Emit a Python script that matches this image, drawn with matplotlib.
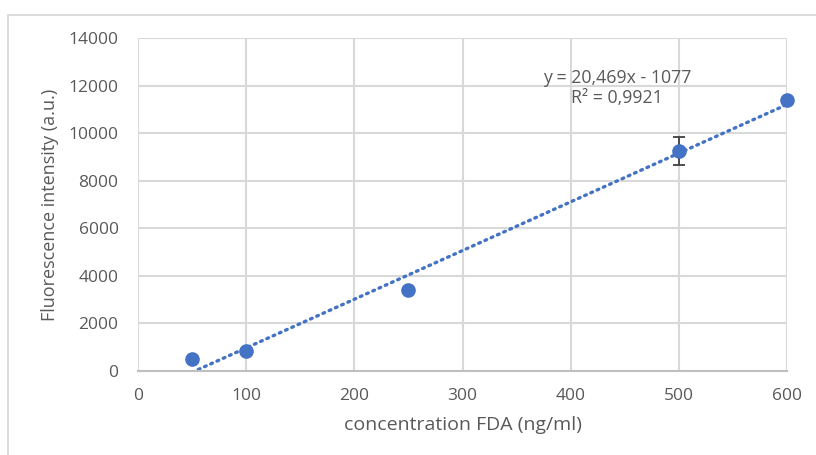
import numpy as np
import matplotlib.pyplot as plt
from matplotlib.patches import Rectangle

plt.rcParams['font.family'] = ['Open Sans', 'DejaVu Sans']

# meetdata
conc = [50, 100, 250, 500, 600]           # ng/ml
intensity = [500, 840, 3400, 9250, 11400]  # a.u.
err = [0, 0, 0, 570, 0]

# lineaire trendlijn (Excel)
slope = 20.469
intercept = -1077
r2 = 0.9921

xticks = [0, 100, 200, 300, 400, 500, 600]
yticks = [0, 2000, 4000, 6000, 8000, 10000, 12000, 14000]

blue = '#4472C4'
grey_txt = '#595959'
grid_c = '#d9d9d9'

fig = plt.figure(figsize=(8.16, 4.55), dpi=100)
ax = fig.add_axes([0.1691, 0.1846, 0.7954, 0.7319])

# kader rond de grafiek
fig.patches.append(Rectangle((8 / 816, -0.2), 1.2, 0.2 + (455 - 15) / 455,
                             transform=fig.transFigure, fill=False,
                             edgecolor=grid_c, linewidth=1.3))

ax.set_xlim(0, 600)
ax.set_ylim(0, 14000)
ax.set_xticks(xticks)
ax.set_yticks(yticks)
ax.grid(True, color=grid_c, linewidth=1.5)
ax.set_axisbelow(True)
for s in ['top', 'right', 'left']:
    ax.spines[s].set_visible(False)
ax.spines['bottom'].set_color('#bfbfbf')
ax.spines['bottom'].set_linewidth(1.5)
ax.tick_params(length=0, labelsize=12.5, labelcolor=grey_txt)
ax.tick_params(axis='x', pad=12)
ax.tick_params(axis='y', pad=14)

xt = np.array([conc[0], conc[-1]])
ax.plot(xt, slope * xt + intercept, color=blue, linewidth=2.4,
        linestyle=(0, (0.55, 1.5)), dash_capstyle='round', zorder=2)

ax.errorbar(conc, intensity, yerr=err, fmt='none', ecolor='#404040',
            elinewidth=1.3, capsize=4.5, capthick=1.3, zorder=3)
ax.plot(conc, intensity, 'o', color=blue, markersize=9.5, zorder=4,
        clip_on=False)

eq = f"y = {slope:.3f}x - {abs(intercept)}\nR² = {r2:.4f}".replace('.', ',')
ax.text(443, 11900, eq, ha='center', va='center', fontsize=12.8,
        color=grey_txt, linespacing=1.1)

ax.set_xlabel('concentration FDA (ng/ml)', fontsize=14, color=grey_txt,
              labelpad=9)
ax.set_ylabel('Fluorescence intensity (a.u.)', fontsize=13, color=grey_txt,
              labelpad=7)

fig.savefig('out.png', dpi=100)
